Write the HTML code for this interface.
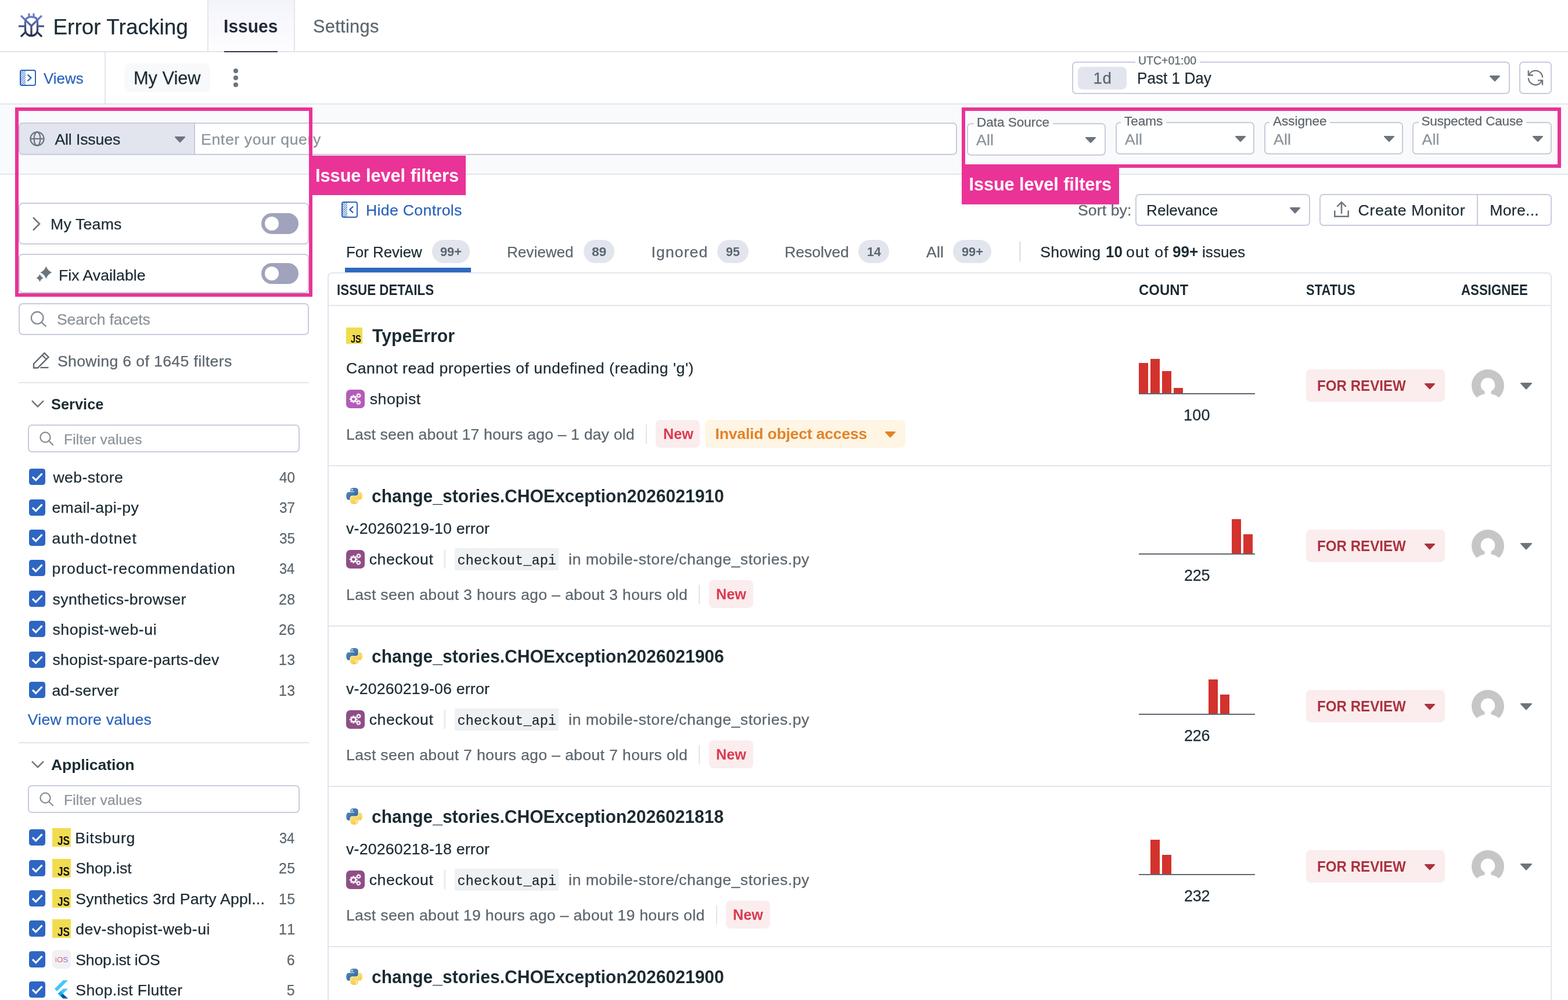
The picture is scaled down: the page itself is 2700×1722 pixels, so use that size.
<!DOCTYPE html>
<html lang="en">
<head>
<meta charset="utf-8">
<title>Error Tracking - Issues</title>
<style>
html,body{margin:0;padding:0;background:#fff;}
body{width:2700px;height:1722px;overflow:hidden;position:relative;font-family:'Liberation Sans', sans-serif;color:#1c2b34;}
#app{position:absolute;left:0;top:0;width:2700px;height:1722px;overflow:hidden;background:#fff;}
#app div,#app svg,#app .t{position:absolute;box-sizing:border-box;}
#app .t{white-space:pre;margin:0;padding:0;font-weight:400;-webkit-text-stroke:0.25px;}
#app .b{font-weight:700;-webkit-text-stroke:0;}
#app svg{overflow:visible;}

.bd{border:2px solid #c8cbdd;border-radius:7px;background:#fff;}
.pill{border-radius:8px;}
.badge{background:#e2e5ed;border-radius:20px;}
.ck{background:#2e66c3;border-radius:4.5px;}

</style>
</head>
<body>
<div id="app">
<header>
<div style="left:356.5px;top:0px;width:151.5px;height:89px;background:linear-gradient(#f3f3fc,#fefeff);border-left:2px solid #e4e6ee;border-right:2px solid #e4e6ee;"></div>
<div style="left:0px;top:88px;width:2700px;height:2px;background:#e2e5ed;"></div>
<div style="left:386px;top:88px;width:92px;height:2px;background:#2c3354;"></div>
<svg style="left:30px;top:20px" width="50" height="48" viewBox="0 0 50 48" ><defs><linearGradient id="bg" gradientUnits="userSpaceOnUse" x1="0" y1="3" x2="0" y2="44"><stop offset="0" stop-color="#6f89e0"/><stop offset="0.55" stop-color="#485489"/><stop offset="1" stop-color="#25293a"/></linearGradient></defs>
<g fill="none" stroke="url(#bg)" stroke-width="3.3">
<path d="M13.500 17.500C13.500 11.500 17.800 9 24 9S34.500 11.500 34.500 17.500V31.200C34.500 37.400 30 41.700 24 41.700S13.500 37.400 13.500 31.200Z"/>
<path d="M6 6.800L24 24.600L42 6.800M24 24V41.500"/>
<path d="M2 25.100H13M35 25.100H46"/>
<path d="M14.800 34.300L6 43.100M33.200 34.300L42 43.100"/>
<path d="M19.900 3.100V9.500M28 3.100V9.500"/>
</g></svg>
<h1 class="t" style="left:91.40px;top:23px;font-size:36.9px;line-height:48px;color:#1c2b34;letter-spacing:0.06px;">Error Tracking</h1>
<span class="t b" style="left:384.80px;top:26px;font-size:30.75px;line-height:40px;color:#232a39;transform:scaleX(0.975);transform-origin:2.00px 50%;">Issues</span>
<span class="t" style="left:538.90px;top:26px;font-size:30.75px;line-height:40px;color:#5c666e;letter-spacing:0.34px;">Settings</span>
</header>
<nav>
<div style="left:180px;top:90px;width:2px;height:89px;background:#e2e5ed;"></div>
<div style="left:0px;top:178px;width:2700px;height:2px;background:#e2e5ed;"></div>
<svg style="left:34px;top:120px" width="28" height="28" viewBox="0 0 28 28" ><defs><pattern id="hx" width="2.6" height="2.6" patternUnits="userSpaceOnUse" patternTransform="rotate(-45)"><rect width="2.6" height="1" fill="#2b63bd"/></pattern></defs>
<rect x="1" y="1" width="26" height="26" rx="3" fill="none" stroke="#2b63bd" stroke-width="2"/>
<rect x="2" y="2" width="8" height="24" fill="url(#hx)"/>
<path d="M13.500 8.500L19.300 14L13.500 19.500" fill="none" stroke="#2b63bd" stroke-width="2.3"/></svg>
<span class="t" style="left:75.10px;top:118px;font-size:26.65px;line-height:35px;color:#2b63bd;transform:scaleX(0.973);transform-origin:0.00px 50%;">Views</span>
<div style="left:214px;top:109px;width:148px;height:50px;background:#f8f9fb;border-radius:10px;"></div>
<span class="t" style="left:230.00px;top:115px;font-size:30.75px;line-height:40px;color:#1c2b34;letter-spacing:-0.02px;">My View</span>
<svg style="left:400px;top:118px" width="12" height="34" viewBox="0 0 12 34" ><circle cx="6" cy="4.100" r="4.100" fill="#6c757d"/><circle cx="6" cy="16.050" r="4.100" fill="#6c757d"/><circle cx="6" cy="28" r="4.100" fill="#6c757d"/></svg>
<div class="bd" style="left:1846px;top:106px;width:754px;height:56px;"></div>
<div style="left:1955px;top:105px;width:111px;height:7px;background:#fff;"></div>
<span class="t" style="left:1960.00px;top:90px;font-size:20.76px;line-height:27px;color:#5c666e;transform:scaleX(0.938);transform-origin:1.00px 50%;">UTC+01:00</span>
<div style="left:1856px;top:114.5px;width:84px;height:39.0px;background:#e2e5ed;border-radius:8px;"></div>
<span class="t" style="left:1882.50px;top:117px;font-size:27.67px;line-height:36px;color:#5c666e;letter-spacing:0.62px;">1d</span>
<span class="t" style="left:1958.00px;top:117px;font-size:27.67px;line-height:36px;color:#1c2b34;transform:scaleX(0.944);transform-origin:2.00px 50%;">Past 1 Day</span>
<svg style="left:2565px;top:130px" width="18" height="10.3" viewBox="0 0 18 10.3" ><path d="M1.1 1.1H16.9L9.0 9.200Z" fill="#6c757d" stroke="#6c757d" stroke-width="2.2" stroke-linejoin="round"/></svg>
<div class="bd" style="left:2616px;top:106px;width:56px;height:56px;"></div>
<svg style="left:2630px;top:120px" width="28" height="28" viewBox="0 0 28 28" ><g fill="none" stroke="#6c757d" stroke-width="2.3">
<path d="M3 8.500A12.200 12.200 0 0 1 26.200 13.600"/><path d="M1.800 1.200V9.500H10"/>
<path d="M1.800 14.200A12.200 12.200 0 0 0 25 19.300"/><path d="M18 18.300H26V26.800"/></g></svg>
</nav>
<section>
<div style="left:0px;top:180px;width:2700px;height:119px;background:#f9fafb;"></div>
<div style="left:0px;top:299px;width:2700px;height:2px;background:#e2e5ed;"></div>
<div class="bd" style="left:334px;top:211px;width:1314px;height:56px;border-radius:0 7px 7px 0;"></div>
<div class="bd" style="left:32px;top:211px;width:304px;height:56px;background:#e2e5ed;border-radius:7px 0 0 7px;"></div>
<svg style="left:51px;top:226px" width="26" height="26" viewBox="0 0 26 26" ><g fill="none" stroke="#6c757d" stroke-width="2.2"><circle cx="13" cy="13" r="11.600"/><ellipse cx="13" cy="13" rx="5.400" ry="11.600"/><path d="M1.400 13H24.600"/></g></svg>
<span class="t" style="left:94.40px;top:223px;font-size:26.65px;line-height:35px;color:#1c2b34;letter-spacing:-0.13px;">All Issues</span>
<svg style="left:301px;top:234.8px" width="18" height="10.5" viewBox="0 0 18 10.5" ><path d="M1.1 1.1H16.9L9.0 9.4Z" fill="#6c757d" stroke="#6c757d" stroke-width="2.2" stroke-linejoin="round"/></svg>
<span class="t" style="left:346.00px;top:223px;font-size:26.65px;line-height:35px;color:#8b9399;letter-spacing:0.63px;">Enter your query</span>
<div class="bd" style="left:1664.5px;top:212px;width:239.5px;height:56px;"></div>
<div style="left:1677px;top:210px;width:135.5px;height:3px;background:#f9fafb;"></div>
<div style="left:1677px;top:213px;width:135.5px;height:3px;background:#fff;"></div>
<span class="t" style="left:1682.00px;top:196px;font-size:22.55px;line-height:29px;color:#5c666e;letter-spacing:-0.03px;">Data Source</span>
<span class="t" style="left:1681.00px;top:224px;font-size:26.65px;line-height:35px;color:#8b9399;letter-spacing:0.16px;">All</span>
<svg style="left:1869.2px;top:235.8px" width="18" height="10.3" viewBox="0 0 18 10.3" ><path d="M1.1 1.1H16.9L9.0 9.200Z" fill="#6c757d" stroke="#6c757d" stroke-width="2.2" stroke-linejoin="round"/></svg>
<div class="bd" style="left:1920.5px;top:210px;width:239.0px;height:56px;"></div>
<div style="left:1930px;top:208px;width:78px;height:3px;background:#f9fafb;"></div>
<div style="left:1930px;top:211px;width:78px;height:3px;background:#fff;"></div>
<span class="t" style="left:1936.00px;top:194px;font-size:22.55px;line-height:29px;color:#5c666e;letter-spacing:-0.03px;">Teams</span>
<span class="t" style="left:1937.00px;top:223px;font-size:26.65px;line-height:35px;color:#8b9399;letter-spacing:0.16px;">All</span>
<svg style="left:2127.3px;top:233.8px" width="18" height="10.3" viewBox="0 0 18 10.3" ><path d="M1.1 1.1H16.9L9.0 9.200Z" fill="#6c757d" stroke="#6c757d" stroke-width="2.2" stroke-linejoin="round"/></svg>
<div class="bd" style="left:2176.5px;top:210px;width:239.0px;height:56px;"></div>
<div style="left:2186px;top:208px;width:104px;height:3px;background:#f9fafb;"></div>
<div style="left:2186px;top:211px;width:104px;height:3px;background:#fff;"></div>
<span class="t" style="left:2192.00px;top:194px;font-size:22.55px;line-height:29px;color:#5c666e;letter-spacing:-0.03px;">Assignee</span>
<span class="t" style="left:2193.00px;top:223px;font-size:26.65px;line-height:35px;color:#8b9399;letter-spacing:0.16px;">All</span>
<svg style="left:2383.3px;top:233.8px" width="18" height="10.3" viewBox="0 0 18 10.3" ><path d="M1.1 1.1H16.9L9.0 9.200Z" fill="#6c757d" stroke="#6c757d" stroke-width="2.2" stroke-linejoin="round"/></svg>
<div class="bd" style="left:2432px;top:210px;width:239.5px;height:56px;"></div>
<div style="left:2442.5px;top:208px;width:185.5px;height:3px;background:#f9fafb;"></div>
<div style="left:2442.5px;top:211px;width:185.5px;height:3px;background:#fff;"></div>
<span class="t" style="left:2447.50px;top:194px;font-size:22.55px;line-height:29px;color:#5c666e;letter-spacing:-0.21px;">Suspected Cause</span>
<span class="t" style="left:2448.50px;top:223px;font-size:26.65px;line-height:35px;color:#8b9399;letter-spacing:0.16px;">All</span>
<svg style="left:2639.3px;top:233.8px" width="18" height="10.3" viewBox="0 0 18 10.3" ><path d="M1.1 1.1H16.9L9.0 9.200Z" fill="#6c757d" stroke="#6c757d" stroke-width="2.2" stroke-linejoin="round"/></svg>
</section>
<aside>
<div class="bd" style="left:32px;top:349px;width:499.5px;height:71.5px;"></div>
<svg style="left:54px;top:373px" width="18" height="25" viewBox="0 0 18 25" ><path d="M3 1.5L14 12.5L3 23.5" fill="none" stroke="#6c757d" stroke-width="2.6"/></svg>
<span class="t" style="left:87.00px;top:369px;font-size:26.65px;line-height:35px;color:#1c2b34;letter-spacing:0.21px;">My Teams</span>
<div style="left:450px;top:367px;width:64px;height:36px;background:#a0a3bb;border-radius:18px;"></div>
<div style="left:456px;top:373px;width:24px;height:24px;background:#fff;border-radius:50%;"></div>
<div class="bd" style="left:32px;top:437px;width:499.5px;height:67.5px;"></div>
<svg style="left:61px;top:456px" width="30" height="30" viewBox="0 0 30 30" ><path d="M18.4 2.5Q21.171 10.203 28.299 13.2Q21.171 16.195 18.4 23.9Q15.627 16.195 8.499 13.2Q15.627 10.203 18.4 2.5ZM7.6 16.0Q9.308 20.823 13.7 22.7Q9.308 24.576 7.6 29.4Q5.891 24.576 1.5 22.7Q5.891 20.823 7.6 16.0Z" fill="#6c757d"/></svg>
<span class="t" style="left:100.90px;top:457px;font-size:26.65px;line-height:35px;color:#1c2b34;letter-spacing:0.05px;">Fix Available</span>
<div style="left:450px;top:453px;width:64px;height:36px;background:#a0a3bb;border-radius:18px;"></div>
<div style="left:456px;top:459px;width:24px;height:24px;background:#fff;border-radius:50%;"></div>
<div class="bd" style="left:32px;top:521.5px;width:499.5px;height:55.0px;"></div>
<svg style="left:52px;top:534px" width="30" height="30" viewBox="0 0 30 30" ><g fill="none" stroke="#848c94" stroke-width="2.3"><circle cx="12.2" cy="13.3" r="10.3"/><path d="M19.500 20.600L27.300 28.400"/></g></svg>
<span class="t" style="left:97.90px;top:533px;font-size:26.65px;line-height:35px;color:#8b9399;letter-spacing:-0.17px;">Search facets</span>
<svg style="left:55px;top:606px" width="32" height="32" viewBox="0 0 32 32" ><g fill="none" stroke="#5c666e" stroke-width="2.3"><path d="M3 20.500L21.500 2L28.500 9L10 27.500H3Z"/><path d="M17.800 5.700L24.800 12.700"/><path d="M14.500 27H28.500"/></g></svg>
<span class="t" style="left:98.90px;top:605px;font-size:26.65px;line-height:35px;color:#5c666e;letter-spacing:0.36px;">Showing 6 of 1645 filters</span>
<div style="left:32px;top:657.5px;width:499.5px;height:2.0px;background:#e2e5ed;"></div>
<svg style="left:53.5px;top:688.7px" width="22" height="14" viewBox="0 0 22 14" ><path d="M1 1.200L11 11.200L21 1.200" fill="none" stroke="#6c757d" stroke-width="2.4"/></svg>
<h2 class="t b" style="left:88.00px;top:679px;font-size:26.65px;line-height:35px;color:#1c2b34;transform:scaleX(0.954);transform-origin:0.00px 50%;">Service</h2>
<div class="bd" style="left:48px;top:731px;width:468px;height:48px;"></div>
<svg style="left:68px;top:743px" width="25" height="25" viewBox="0 0 25 25" ><g fill="none" stroke="#848c94" stroke-width="2.2"><circle cx="10" cy="10" r="8.600"/><path d="M16.200 16.200L23.700 23.700"/></g></svg>
<span class="t" style="left:110.00px;top:741px;font-size:24.6px;line-height:32px;color:#8b9399;letter-spacing:0.16px;">Filter values</span>
<div class="ck" style="left:50px;top:807px;width:28px;height:28px;"></div>
<svg style="left:50px;top:807px" width="28" height="28" viewBox="0 0 28 28" ><path d="M6 14.2L11.700 19.800L22.500 8.5" fill="none" stroke="#fff" stroke-width="3.2"/></svg>
<span class="t" style="left:91.40px;top:805px;font-size:26.65px;line-height:35px;color:#1c2b34;letter-spacing:0.43px;">web-store</span>
<span class="t" style="left:481.00px;top:806px;font-size:24.91px;line-height:32px;color:#5c666e;transform:scaleX(0.979);transform-origin:0.00px 50%;">40</span>
<div class="ck" style="left:50px;top:860px;width:28px;height:28px;"></div>
<svg style="left:50px;top:860px" width="28" height="28" viewBox="0 0 28 28" ><path d="M6 14.2L11.700 19.800L22.500 8.5" fill="none" stroke="#fff" stroke-width="3.2"/></svg>
<span class="t" style="left:89.40px;top:857px;font-size:26.65px;line-height:35px;color:#1c2b34;letter-spacing:0.39px;">email-api-py</span>
<span class="t" style="left:481.00px;top:858px;font-size:24.91px;line-height:32px;color:#5c666e;transform:scaleX(0.979);transform-origin:0.00px 50%;">37</span>
<div class="ck" style="left:50px;top:912px;width:28px;height:28px;"></div>
<svg style="left:50px;top:912px" width="28" height="28" viewBox="0 0 28 28" ><path d="M6 14.2L11.700 19.800L22.500 8.5" fill="none" stroke="#fff" stroke-width="3.2"/></svg>
<span class="t" style="left:89.40px;top:910px;font-size:26.65px;line-height:35px;color:#1c2b34;letter-spacing:1.06px;">auth-dotnet</span>
<span class="t" style="left:481.00px;top:911px;font-size:24.91px;line-height:32px;color:#5c666e;transform:scaleX(0.979);transform-origin:0.00px 50%;">35</span>
<div class="ck" style="left:50px;top:964px;width:28px;height:28px;"></div>
<svg style="left:50px;top:964px" width="28" height="28" viewBox="0 0 28 28" ><path d="M6 14.2L11.700 19.800L22.500 8.5" fill="none" stroke="#fff" stroke-width="3.2"/></svg>
<span class="t" style="left:89.40px;top:962px;font-size:26.65px;line-height:35px;color:#1c2b34;letter-spacing:0.92px;">product-recommendation</span>
<span class="t" style="left:481.00px;top:963px;font-size:24.91px;line-height:32px;color:#5c666e;transform:scaleX(0.944);transform-origin:0.00px 50%;">34</span>
<div class="ck" style="left:50px;top:1017px;width:28px;height:28px;"></div>
<svg style="left:50px;top:1017px" width="28" height="28" viewBox="0 0 28 28" ><path d="M6 14.2L11.700 19.800L22.500 8.5" fill="none" stroke="#fff" stroke-width="3.2"/></svg>
<span class="t" style="left:90.40px;top:1015px;font-size:26.65px;line-height:35px;color:#1c2b34;letter-spacing:0.46px;">synthetics-browser</span>
<span class="t" style="left:480.00px;top:1016px;font-size:24.91px;line-height:32px;color:#5c666e;letter-spacing:0.45px;">28</span>
<div class="ck" style="left:50px;top:1069px;width:28px;height:28px;"></div>
<svg style="left:50px;top:1069px" width="28" height="28" viewBox="0 0 28 28" ><path d="M6 14.2L11.700 19.800L22.500 8.5" fill="none" stroke="#fff" stroke-width="3.2"/></svg>
<span class="t" style="left:90.40px;top:1067px;font-size:26.65px;line-height:35px;color:#1c2b34;letter-spacing:0.57px;">shopist-web-ui</span>
<span class="t" style="left:480.00px;top:1068px;font-size:24.91px;line-height:32px;color:#5c666e;letter-spacing:0.45px;">26</span>
<div class="ck" style="left:50px;top:1122px;width:28px;height:28px;"></div>
<svg style="left:50px;top:1122px" width="28" height="28" viewBox="0 0 28 28" ><path d="M6 14.2L11.700 19.800L22.500 8.5" fill="none" stroke="#fff" stroke-width="3.2"/></svg>
<span class="t" style="left:90.40px;top:1119px;font-size:26.65px;line-height:35px;color:#1c2b34;letter-spacing:0.32px;">shopist-spare-parts-dev</span>
<span class="t" style="left:480.00px;top:1120px;font-size:24.91px;line-height:32px;color:#5c666e;letter-spacing:0.45px;">13</span>
<div class="ck" style="left:50px;top:1174px;width:28px;height:28px;"></div>
<svg style="left:50px;top:1174px" width="28" height="28" viewBox="0 0 28 28" ><path d="M6 14.2L11.700 19.800L22.500 8.5" fill="none" stroke="#fff" stroke-width="3.2"/></svg>
<span class="t" style="left:89.40px;top:1172px;font-size:26.65px;line-height:35px;color:#1c2b34;letter-spacing:0.34px;">ad-server</span>
<span class="t" style="left:480.00px;top:1173px;font-size:24.91px;line-height:32px;color:#5c666e;letter-spacing:0.45px;">13</span>
<span class="t" style="left:47.80px;top:1222px;font-size:26.65px;line-height:35px;color:#2b63bd;letter-spacing:0.22px;">View more values</span>
<div style="left:32px;top:1278px;width:499.5px;height:2px;background:#e2e5ed;"></div>
<svg style="left:53.5px;top:1310.2px" width="22" height="14" viewBox="0 0 22 14" ><path d="M1 1.200L11 11.200L21 1.200" fill="none" stroke="#6c757d" stroke-width="2.4"/></svg>
<h2 class="t b" style="left:88.00px;top:1300px;font-size:26.65px;line-height:35px;color:#1c2b34;letter-spacing:-0.15px;">Application</h2>
<div class="bd" style="left:48px;top:1352px;width:468px;height:48px;"></div>
<svg style="left:68px;top:1364px" width="25" height="25" viewBox="0 0 25 25" ><g fill="none" stroke="#848c94" stroke-width="2.2"><circle cx="10" cy="10" r="8.600"/><path d="M16.200 16.200L23.700 23.700"/></g></svg>
<span class="t" style="left:110.00px;top:1362px;font-size:24.6px;line-height:32px;color:#8b9399;letter-spacing:0.16px;">Filter values</span>
<div class="ck" style="left:50px;top:1428px;width:28px;height:28px;"></div>
<svg style="left:50px;top:1428px" width="28" height="28" viewBox="0 0 28 28" ><path d="M6 14.2L11.700 19.800L22.500 8.5" fill="none" stroke="#fff" stroke-width="3.2"/></svg>
<div style="left:90px;top:1426px;width:32px;height:32px;background:#f1dc50;"></div>
<span class="t b" style="left:99.14px;top:1434px;font-size:21.9px;line-height:28px;color:#111;transform:scaleX(0.785);transform-origin:0.00px 50%;">JS</span>
<span class="t" style="left:129.30px;top:1426px;font-size:26.65px;line-height:35px;color:#1c2b34;letter-spacing:0.76px;">Bitsburg</span>
<span class="t" style="left:481.00px;top:1427px;font-size:24.91px;line-height:32px;color:#5c666e;transform:scaleX(0.944);transform-origin:0.00px 50%;">34</span>
<div class="ck" style="left:50px;top:1481px;width:28px;height:28px;"></div>
<svg style="left:50px;top:1481px" width="28" height="28" viewBox="0 0 28 28" ><path d="M6 14.2L11.700 19.800L22.500 8.5" fill="none" stroke="#fff" stroke-width="3.2"/></svg>
<div style="left:90px;top:1479px;width:32px;height:32px;background:#f1dc50;"></div>
<span class="t b" style="left:99.14px;top:1487px;font-size:21.9px;line-height:28px;color:#111;transform:scaleX(0.785);transform-origin:0.00px 50%;">JS</span>
<span class="t" style="left:130.30px;top:1478px;font-size:26.65px;line-height:35px;color:#1c2b34;letter-spacing:0.01px;">Shop.ist</span>
<span class="t" style="left:480.00px;top:1479px;font-size:24.91px;line-height:32px;color:#5c666e;letter-spacing:0.45px;">25</span>
<div class="ck" style="left:50px;top:1533px;width:28px;height:28px;"></div>
<svg style="left:50px;top:1533px" width="28" height="28" viewBox="0 0 28 28" ><path d="M6 14.2L11.700 19.800L22.500 8.5" fill="none" stroke="#fff" stroke-width="3.2"/></svg>
<div style="left:90px;top:1531px;width:32px;height:32px;background:#f1dc50;"></div>
<span class="t b" style="left:99.14px;top:1539px;font-size:21.9px;line-height:28px;color:#111;transform:scaleX(0.785);transform-origin:0.00px 50%;">JS</span>
<span class="t" style="left:130.30px;top:1531px;font-size:26.65px;line-height:35px;color:#1c2b34;letter-spacing:0.21px;">Synthetics 3rd Party Appl...</span>
<span class="t" style="left:480.00px;top:1532px;font-size:24.91px;line-height:32px;color:#5c666e;letter-spacing:0.45px;">15</span>
<div class="ck" style="left:50px;top:1585px;width:28px;height:28px;"></div>
<svg style="left:50px;top:1585px" width="28" height="28" viewBox="0 0 28 28" ><path d="M6 14.2L11.700 19.800L22.500 8.5" fill="none" stroke="#fff" stroke-width="3.2"/></svg>
<div style="left:90px;top:1583px;width:32px;height:32px;background:#f1dc50;"></div>
<span class="t b" style="left:99.14px;top:1591px;font-size:21.9px;line-height:28px;color:#111;transform:scaleX(0.785);transform-origin:0.00px 50%;">JS</span>
<span class="t" style="left:130.30px;top:1583px;font-size:26.65px;line-height:35px;color:#1c2b34;letter-spacing:0.44px;">dev-shopist-web-ui</span>
<span class="t" style="left:480.00px;top:1584px;font-size:24.91px;line-height:32px;color:#5c666e;letter-spacing:2.30px;">11</span>
<div class="ck" style="left:50px;top:1638px;width:28px;height:28px;"></div>
<svg style="left:50px;top:1638px" width="28" height="28" viewBox="0 0 28 28" ><path d="M6 14.2L11.700 19.800L22.500 8.5" fill="none" stroke="#fff" stroke-width="3.2"/></svg>
<div style="left:90px;top:1636px;width:32px;height:32px;background:#f1f1f4;border-radius:7px;"></div>
<svg style="left:90px;top:1636px" width="32" height="32" viewBox="0 0 32 32" ><defs><linearGradient id="ig" x1="0" y1="0" x2="1" y2="0"><stop offset="0" stop-color="#f08a5d"/><stop offset="0.45" stop-color="#e0508f"/><stop offset="1" stop-color="#5a7fe0"/></linearGradient></defs><text x="16" y="20.700" text-anchor="middle" font-family="Liberation Sans, sans-serif" font-size="13.5" fill="url(#ig)">iOS</text></svg>
<span class="t" style="left:130.30px;top:1636px;font-size:26.65px;line-height:35px;color:#1c2b34;letter-spacing:-0.24px;">Shop.ist iOS</span>
<span class="t" style="left:493.70px;top:1637px;font-size:24.91px;line-height:32px;color:#5c666e;">6</span>
<div class="ck" style="left:50px;top:1690px;width:28px;height:28px;"></div>
<svg style="left:50px;top:1690px" width="28" height="28" viewBox="0 0 28 28" ><path d="M6 14.2L11.700 19.800L22.500 8.5" fill="none" stroke="#fff" stroke-width="3.2"/></svg>
<svg style="left:93.4px;top:1687.8px" width="25" height="32" viewBox="0 0 27 34.5" ><path d="M17 0H26L5.500 20.500L1 16Z" fill="#47c5fb"/><path d="M17 15.5H26L16.500 25L12 20.500Z" fill="#47c5fb"/><path d="M12 20.500L16.500 25L26 34H17L7.500 25Z" fill="#00569e"/><path d="M7.500 25L12 20.500L16.500 25L12 29.500Z" fill="#00b5f8"/></svg>
<span class="t" style="left:130.30px;top:1688px;font-size:26.65px;line-height:35px;color:#1c2b34;letter-spacing:0.31px;">Shop.ist Flutter</span>
<span class="t" style="left:493.70px;top:1689px;font-size:24.91px;line-height:32px;color:#5c666e;">5</span>
</aside>
<main>
<svg style="left:587.8px;top:347px" width="28" height="28" viewBox="0 0 28 28" ><defs><pattern id="hy" width="2.6" height="2.6" patternUnits="userSpaceOnUse" patternTransform="rotate(-45)"><rect width="2.6" height="1" fill="#2b63bd"/></pattern></defs>
<rect x="1" y="1" width="26" height="26" rx="3" fill="none" stroke="#2b63bd" stroke-width="2"/>
<rect x="2" y="2" width="8" height="24" fill="url(#hy)"/>
<path d="M20 8.600L14.300 14L20 19.400" fill="none" stroke="#2b63bd" stroke-width="2.3"/></svg>
<span class="t" style="left:629.90px;top:345px;font-size:26.65px;line-height:35px;color:#2b63bd;letter-spacing:0.34px;">Hide Controls</span>
<span class="t" style="left:596.00px;top:417px;font-size:26.65px;line-height:35px;color:#1c2b34;transform:scaleX(0.970);transform-origin:2.00px 50%;">For Review</span>
<div class="badge" style="left:744px;top:413px;width:65px;height:40px;"></div>
<span class="t b" style="left:758.00px;top:418px;font-size:22.84px;line-height:30px;color:#5c666e;transform:scaleX(0.953);transform-origin:0.00px 50%;">99+</span>
<div style="left:594px;top:460.8px;width:217px;height:8.199px;background:#2e68be;"></div>
<span class="t" style="left:873.00px;top:417px;font-size:26.65px;line-height:35px;color:#5c666e;transform:scaleX(0.978);transform-origin:2.00px 50%;">Reviewed</span>
<div class="badge" style="left:1005px;top:413px;width:53px;height:40px;"></div>
<span class="t b" style="left:1018.90px;top:418px;font-size:22.84px;line-height:30px;color:#5c666e;letter-spacing:-0.10px;">89</span>
<span class="t" style="left:1121.50px;top:417px;font-size:26.65px;line-height:35px;color:#5c666e;letter-spacing:1.08px;">Ignored</span>
<div class="badge" style="left:1235px;top:413px;width:53.700px;height:40px;"></div>
<span class="t b" style="left:1249.50px;top:418px;font-size:22.84px;line-height:30px;color:#5c666e;transform:scaleX(0.941);transform-origin:0.00px 50%;">95</span>
<span class="t" style="left:1351.00px;top:417px;font-size:26.65px;line-height:35px;color:#5c666e;letter-spacing:-0.04px;">Resolved</span>
<div class="badge" style="left:1478px;top:413px;width:53px;height:40px;"></div>
<span class="t b" style="left:1492.50px;top:418px;font-size:22.84px;line-height:30px;color:#5c666e;transform:scaleX(0.939);transform-origin:1.00px 50%;">14</span>
<span class="t" style="left:1595.00px;top:417px;font-size:26.65px;line-height:35px;color:#5c666e;letter-spacing:0.16px;">All</span>
<div class="badge" style="left:1641px;top:413px;width:65.5px;height:40px;"></div>
<span class="t b" style="left:1655.70px;top:418px;font-size:22.84px;line-height:30px;color:#5c666e;transform:scaleX(0.955);transform-origin:0.00px 50%;">99+</span>
<div style="left:1755px;top:416px;width:3px;height:34px;background:#e2e5ed;"></div>
<span class="t" style="left:1791.20px;top:417px;font-size:26.65px;line-height:35px;color:#1c2b34;letter-spacing:0.27px;">Showing</span>
<span class="t b" style="left:1903.60px;top:417px;font-size:26.99px;line-height:35px;color:#1c2b34;transform:scaleX(0.964);transform-origin:1.00px 50%;">10</span>
<span class="t" style="left:1939.00px;top:417px;font-size:26.65px;line-height:35px;color:#1c2b34;letter-spacing:1.21px;">out of</span>
<span class="t b" style="left:2019.00px;top:417px;font-size:26.99px;line-height:35px;color:#1c2b34;transform:scaleX(0.970);transform-origin:0.00px 50%;">99+</span>
<span class="t" style="left:2070.00px;top:417px;font-size:26.65px;line-height:35px;color:#1c2b34;transform:scaleX(0.982);transform-origin:1.00px 50%;">issues</span>
<span class="t" style="left:1856.00px;top:345px;font-size:26.65px;line-height:35px;color:#5c666e;letter-spacing:0.09px;">Sort by:</span>
<div class="bd" style="left:1955px;top:334px;width:301px;height:55px;"></div>
<span class="t" style="left:1973.50px;top:345px;font-size:26.65px;line-height:35px;color:#1c2b34;transform:scaleX(0.979);transform-origin:2.00px 50%;">Relevance</span>
<svg style="left:2220.5px;top:356.5px" width="18" height="10.5" viewBox="0 0 18 10.5" ><path d="M1.1 1.1H16.9L9.0 9.4Z" fill="#6c757d" stroke="#6c757d" stroke-width="2.2" stroke-linejoin="round"/></svg>
<div class="bd" style="left:2272px;top:334px;width:400px;height:55px;"></div>
<div style="left:2543px;top:335px;width:2px;height:53px;background:#c8cbdd;"></div>
<svg style="left:2296px;top:346px" width="28" height="29" viewBox="0 0 28 29" ><g fill="none" stroke="#6c757d" stroke-width="2.5"><path d="M2.300 16.500V26.700H25.700V16.500"/><path d="M14 22V3M6.300 9.800L14 2.200L21.700 9.800"/></g></svg>
<span class="t" style="left:2338.60px;top:345px;font-size:26.65px;line-height:35px;color:#1c2b34;letter-spacing:0.60px;">Create Monitor</span>
<span class="t" style="left:2565.20px;top:345px;font-size:26.65px;line-height:35px;color:#1c2b34;letter-spacing:0.27px;">More...</span>
<div style="left:564px;top:469px;width:2108px;height:1271px;border:2px solid #e2e5ed;border-radius:8px;"></div>
<div style="left:566px;top:525px;width:2104px;height:2px;background:#e2e5ed;"></div>
<span class="t b" style="left:579.80px;top:483px;font-size:24.91px;line-height:32px;color:#1c2b34;transform:scaleX(0.896);transform-origin:1.00px 50%;">ISSUE DETAILS</span>
<span class="t b" style="left:1960.50px;top:483px;font-size:24.91px;line-height:32px;color:#1c2b34;transform:scaleX(0.961);transform-origin:1.00px 50%;">COUNT</span>
<span class="t b" style="left:2249.20px;top:483px;font-size:24.91px;line-height:32px;color:#1c2b34;transform:scaleX(0.882);transform-origin:0.00px 50%;">STATUS</span>
<span class="t b" style="left:2516.00px;top:483px;font-size:24.91px;line-height:32px;color:#1c2b34;transform:scaleX(0.893);transform-origin:0.00px 50%;">ASSIGNEE</span>
<svg width="0" height="0" style="left:0;top:0"><defs>
<linearGradient id="pyb" x1="0" y1="0" x2="0.75" y2="0.9"><stop offset="0" stop-color="#5b90c2"/><stop offset="1" stop-color="#35689a"/></linearGradient>
<linearGradient id="pyy" x1="0.3" y1="0.1" x2="0.8" y2="1"><stop offset="0" stop-color="#fce27a"/><stop offset="1" stop-color="#f6c63c"/></linearGradient>
<g id="pylogo">
<path fill="url(#pyb)" d="M54.920 0C50.340 0.020 45.960 0.410 42.110 1.090C30.760 3.100 28.700 7.290 28.700 15.030V25.250H55.510V28.660H28.700H18.640C10.850 28.660 4.020 33.340 1.890 42.250C-0.570 52.460 -0.680 58.840 1.890 69.500C3.790 77.440 8.350 83.090 16.140 83.090H25.360V70.840C25.360 61.990 33.010 54.190 42.110 54.190H68.890C76.340 54.190 82.290 48.050 82.290 40.560V15.030C82.290 7.770 76.160 2.310 68.890 1.090C64.280 0.330 59.500 -0.020 54.920 0ZM40.420 8.220C43.190 8.220 45.450 10.520 45.450 13.340C45.450 16.160 43.190 18.440 40.420 18.440C37.640 18.440 35.390 16.160 35.390 13.340C35.390 10.520 37.640 8.220 40.420 8.220Z"/>
<path fill="url(#pyy)" d="M85.640 28.660V40.560C85.640 49.790 77.810 57.560 68.890 57.560H42.110C34.770 57.560 28.700 63.840 28.700 71.190V96.720C28.700 103.990 35.020 108.260 42.110 110.340C50.590 112.840 58.730 113.290 68.890 110.340C75.640 108.390 82.290 104.460 82.290 96.720V86.500H55.510V83.090H82.290H95.700C103.490 83.090 106.400 77.660 109.110 69.500C111.910 61.100 111.790 53.030 109.110 42.250C107.180 34.490 103.500 28.660 95.700 28.660ZM70.580 93.310C73.350 93.310 75.610 95.590 75.610 98.410C75.610 101.230 73.350 103.530 70.580 103.530C67.810 103.530 65.540 101.230 65.540 98.410C65.540 95.590 67.810 93.310 70.580 93.310Z"/>
</g></defs></svg>
<article>
<div style="left:596px;top:564px;width:28px;height:28px;background:#f1dc50;"></div>
<span class="t b" style="left:604.00px;top:571px;font-size:19.2px;line-height:25px;color:#111;transform:scaleX(0.760);transform-origin:0.00px 50%;">JS</span>
<h3 class="t b" style="left:640.50px;top:559px;font-size:30.75px;line-height:40px;color:#1c2b34;transform:scaleX(0.981);transform-origin:0.00px 50%;">TypeError</h3>
<span class="t" style="left:596.00px;top:617px;font-size:26.65px;line-height:35px;color:#1c2b34;letter-spacing:0.53px;">Cannot read properties of undefined (reading 'g')</span>
<div style="left:596px;top:671px;width:32px;height:32px;background:#b35cb8;border-radius:7px;"></div>
<svg style="left:596px;top:671px" width="32" height="32" viewBox="0 0 32 32" ><path d="M19.20 14.97L19.20 17.23L17.45 17.24L16.86 18.65L18.10 19.90L16.50 21.50L15.25 20.26L13.84 20.85L13.83 22.60L11.57 22.60L11.56 20.85L10.15 20.26L8.90 21.50L7.30 19.90L8.54 18.65L7.95 17.24L6.20 17.23L6.20 14.97L7.95 14.96L8.54 13.55L7.30 12.30L8.90 10.70L10.15 11.94L11.56 11.35L11.57 9.60L13.83 9.60L13.84 11.35L15.25 11.94L16.50 10.70L18.10 12.30L16.86 13.55L17.45 14.96Z" fill="#fff" stroke="#fff" stroke-width="0.6" stroke-linejoin="round"/><circle cx="12.7" cy="16.1" r="2.700" fill="#b35cb8"/><path d="M25.32 9.43L25.32 10.97L24.28 10.97L23.83 11.90L24.48 12.71L23.29 13.67L22.63 12.85L21.63 13.08L21.39 14.10L19.90 13.76L20.13 12.74L19.33 12.10L18.39 12.55L17.72 11.17L18.66 10.72L18.66 9.68L17.72 9.23L18.39 7.85L19.33 8.30L20.13 7.66L19.90 6.64L21.39 6.30L21.63 7.32L22.63 7.55L23.29 6.73L24.48 7.69L23.83 8.50L24.28 9.43Z" fill="#fff" stroke="#fff" stroke-width="0.6" stroke-linejoin="round"/><circle cx="21.5" cy="10.2" r="1.500" fill="#b35cb8"/><path d="M25.12 21.13L25.12 22.67L24.08 22.67L23.63 23.60L24.28 24.41L23.09 25.37L22.43 24.55L21.43 24.78L21.19 25.80L19.70 25.46L19.93 24.44L19.13 23.80L18.19 24.25L17.52 22.87L18.46 22.42L18.46 21.38L17.52 20.93L18.19 19.55L19.13 20.00L19.93 19.36L19.70 18.34L21.19 18.00L21.43 19.02L22.43 19.25L23.09 18.43L24.28 19.39L23.63 20.20L24.08 21.13Z" fill="#fff" stroke="#fff" stroke-width="0.6" stroke-linejoin="round"/><circle cx="21.3" cy="21.9" r="1.500" fill="#b35cb8"/></svg>
<span class="t" style="left:636.80px;top:670px;font-size:26.65px;line-height:35px;color:#1c2b34;letter-spacing:0.48px;">shopist</span>
<span class="t" style="left:596.00px;top:731px;font-size:26.65px;line-height:35px;color:#5c666e;letter-spacing:0.16px;">Last seen about 17 hours ago – 1 day old</span>
<div style="left:1111.8px;top:731px;width:2.0px;height:33px;background:#e2e5ed;"></div>
<div class="pill" style="left:1129.3px;top:722.7px;width:76.0px;height:48.099px;background:#fbecee;"></div>
<span class="t b" style="left:1141.60px;top:730px;font-size:26.65px;line-height:35px;color:#da3b4f;transform:scaleX(0.949);transform-origin:1.00px 50%;">New</span>
<div class="pill" style="left:1214px;top:722.7px;width:344.5px;height:48.099px;background:#fef5e5;"></div>
<span class="t b" style="left:1231.60px;top:730px;font-size:26.65px;line-height:35px;color:#e38327;letter-spacing:-0.25px;">Invalid object access</span>
<svg style="left:1523.5px;top:742.5px" width="18" height="10.5" viewBox="0 0 18 10.5" ><path d="M1.1 1.1H16.9L9.0 9.4Z" fill="#e3822a" stroke="#e3822a" stroke-width="2.2" stroke-linejoin="round"/></svg>
<div style="left:1961px;top:624.5px;width:16px;height:53.0px;background:#d3322d;"></div>
<div style="left:1981px;top:618.0px;width:16px;height:59.5px;background:#d3322d;"></div>
<div style="left:2001px;top:639.0px;width:16px;height:38.5px;background:#d3322d;"></div>
<div style="left:2021px;top:668.0px;width:16px;height:9.5px;background:#d3322d;"></div>
<div style="left:1961px;top:677px;width:200px;height:2px;background:#5b6670;"></div>
<span class="t" style="left:2038.00px;top:698px;font-size:26.99px;line-height:35px;color:#1c2b34;letter-spacing:0.29px;">100</span>
<div class="pill" style="left:2249px;top:636px;width:239px;height:56px;background:#fbecee;"></div>
<span class="t b" style="left:2267.60px;top:648px;font-size:25.53px;line-height:33px;color:#aa343f;transform:scaleX(0.945);transform-origin:1.00px 50%;">FOR REVIEW</span>
<svg style="left:2453px;top:660px" width="18" height="10.3" viewBox="0 0 18 10.3" ><path d="M1.1 1.1H16.9L9.0 9.200Z" fill="#aa343f" stroke="#aa343f" stroke-width="2.2" stroke-linejoin="round"/></svg>
<svg style="left:2534px;top:636px" width="56" height="56" viewBox="0 0 56 56" ><defs><clipPath id="av636"><circle cx="28" cy="28" r="28"/></clipPath></defs>
<circle cx="28" cy="28" r="28" fill="#c6c6c6"/>
<g fill="#fff"><circle cx="28" cy="26.900" r="12.300"/><rect x="22.500" y="34" width="11" height="12"/><ellipse cx="28" cy="63.300" rx="26.300" ry="21.400"/><rect x="0" y="49" width="56" height="8"/></g></svg>
<svg style="left:2618px;top:659.3px" width="20" height="11.6" viewBox="0 0 20 11.6" ><path d="M1.1 1.1H18.9L10.0 10.5Z" fill="#6c757d" stroke="#6c757d" stroke-width="2.2" stroke-linejoin="round"/></svg>
</article>
<article>
<div style="left:566px;top:801px;width:2104px;height:2px;background:#e2e5ed;"></div>
<svg style="left:596px;top:840px" width="28" height="28" viewBox="0 0 111 112.500"><use href="#pylogo"/></svg>
<h3 class="t b" style="left:639.50px;top:835px;font-size:30.75px;line-height:40px;color:#1c2b34;transform:scaleX(0.978);transform-origin:1.00px 50%;">change_stories.CHOException2026021910</h3>
<span class="t" style="left:596.00px;top:893px;font-size:26.65px;line-height:35px;color:#1c2b34;letter-spacing:0.22px;">v-20260219-10 error</span>
<div style="left:596px;top:947px;width:32px;height:32px;background:#8f4e86;border-radius:7px;"></div>
<svg style="left:596px;top:947px" width="32" height="32" viewBox="0 0 32 32" ><path d="M19.20 14.97L19.20 17.23L17.45 17.24L16.86 18.65L18.10 19.90L16.50 21.50L15.25 20.26L13.84 20.85L13.83 22.60L11.57 22.60L11.56 20.85L10.15 20.26L8.90 21.50L7.30 19.90L8.54 18.65L7.95 17.24L6.20 17.23L6.20 14.97L7.95 14.96L8.54 13.55L7.30 12.30L8.90 10.70L10.15 11.94L11.56 11.35L11.57 9.60L13.83 9.60L13.84 11.35L15.25 11.94L16.50 10.70L18.10 12.30L16.86 13.55L17.45 14.96Z" fill="#fff" stroke="#fff" stroke-width="0.6" stroke-linejoin="round"/><circle cx="12.7" cy="16.1" r="2.700" fill="#8f4e86"/><path d="M25.32 9.43L25.32 10.97L24.28 10.97L23.83 11.90L24.48 12.71L23.29 13.67L22.63 12.85L21.63 13.08L21.39 14.10L19.90 13.76L20.13 12.74L19.33 12.10L18.39 12.55L17.72 11.17L18.66 10.72L18.66 9.68L17.72 9.23L18.39 7.85L19.33 8.30L20.13 7.66L19.90 6.64L21.39 6.30L21.63 7.32L22.63 7.55L23.29 6.73L24.48 7.69L23.83 8.50L24.28 9.43Z" fill="#fff" stroke="#fff" stroke-width="0.6" stroke-linejoin="round"/><circle cx="21.5" cy="10.2" r="1.500" fill="#8f4e86"/><path d="M25.12 21.13L25.12 22.67L24.08 22.67L23.63 23.60L24.28 24.41L23.09 25.37L22.43 24.55L21.43 24.78L21.19 25.80L19.70 25.46L19.93 24.44L19.13 23.80L18.19 24.25L17.52 22.87L18.46 22.42L18.46 21.38L17.52 20.93L18.19 19.55L19.13 20.00L19.93 19.36L19.70 18.34L21.19 18.00L21.43 19.02L22.43 19.25L23.09 18.43L24.28 19.39L23.63 20.20L24.08 21.13Z" fill="#fff" stroke="#fff" stroke-width="0.6" stroke-linejoin="round"/><circle cx="21.3" cy="21.9" r="1.500" fill="#8f4e86"/></svg>
<span class="t" style="left:635.80px;top:946px;font-size:26.65px;line-height:35px;color:#1c2b34;letter-spacing:0.48px;">checkout</span>
<div style="left:765px;top:946px;width:2px;height:33px;background:#e2e5ed;"></div>
<div style="left:783px;top:944px;width:179px;height:38px;background:#eff0f2;border-radius:2px;"></div>
<code class="t" style="left:787.60px;top:951px;font-size:23.4px;line-height:30px;color:#1c2b34;letter-spacing:0.17px;font-family:'Liberation Mono', monospace;">checkout_api</code>
<span class="t" style="left:979.00px;top:946px;font-size:26.65px;line-height:35px;color:#5c666e;letter-spacing:0.50px;">in mobile-store/change_stories.py</span>
<span class="t" style="left:596.00px;top:1007px;font-size:26.65px;line-height:35px;color:#5c666e;letter-spacing:0.32px;">Last seen about 3 hours ago – about 3 hours old</span>
<div style="left:1203.3px;top:1007px;width:2.0px;height:33px;background:#e2e5ed;"></div>
<div class="pill" style="left:1220.8px;top:998.7px;width:76.0px;height:48.099px;background:#fbecee;"></div>
<span class="t b" style="left:1233.10px;top:1006px;font-size:26.65px;line-height:35px;color:#da3b4f;transform:scaleX(0.949);transform-origin:1.00px 50%;">New</span>
<div style="left:2121px;top:894.0px;width:16px;height:59.5px;background:#d3322d;"></div>
<div style="left:2141px;top:919.5px;width:16px;height:34.0px;background:#d3322d;"></div>
<div style="left:1961px;top:953px;width:200px;height:2px;background:#5b6670;"></div>
<span class="t" style="left:2039.00px;top:974px;font-size:26.99px;line-height:35px;color:#1c2b34;letter-spacing:-0.21px;">225</span>
<div class="pill" style="left:2249px;top:912px;width:239px;height:56px;background:#fbecee;"></div>
<span class="t b" style="left:2267.60px;top:924px;font-size:25.53px;line-height:33px;color:#aa343f;transform:scaleX(0.945);transform-origin:1.00px 50%;">FOR REVIEW</span>
<svg style="left:2453px;top:936px" width="18" height="10.3" viewBox="0 0 18 10.3" ><path d="M1.1 1.1H16.9L9.0 9.200Z" fill="#aa343f" stroke="#aa343f" stroke-width="2.2" stroke-linejoin="round"/></svg>
<svg style="left:2534px;top:912px" width="56" height="56" viewBox="0 0 56 56" ><defs><clipPath id="av912"><circle cx="28" cy="28" r="28"/></clipPath></defs>
<circle cx="28" cy="28" r="28" fill="#c6c6c6"/>
<g fill="#fff"><circle cx="28" cy="26.900" r="12.300"/><rect x="22.500" y="34" width="11" height="12"/><ellipse cx="28" cy="63.300" rx="26.300" ry="21.400"/><rect x="0" y="49" width="56" height="8"/></g></svg>
<svg style="left:2618px;top:935.3px" width="20" height="11.6" viewBox="0 0 20 11.6" ><path d="M1.1 1.1H18.9L10.0 10.5Z" fill="#6c757d" stroke="#6c757d" stroke-width="2.2" stroke-linejoin="round"/></svg>
</article>
<article>
<div style="left:566px;top:1077px;width:2104px;height:2px;background:#e2e5ed;"></div>
<svg style="left:596px;top:1116px" width="28" height="28" viewBox="0 0 111 112.500"><use href="#pylogo"/></svg>
<h3 class="t b" style="left:639.50px;top:1111px;font-size:30.75px;line-height:40px;color:#1c2b34;transform:scaleX(0.978);transform-origin:1.00px 50%;">change_stories.CHOException2026021906</h3>
<span class="t" style="left:596.00px;top:1169px;font-size:26.65px;line-height:35px;color:#1c2b34;letter-spacing:0.22px;">v-20260219-06 error</span>
<div style="left:596px;top:1223px;width:32px;height:32px;background:#8f4e86;border-radius:7px;"></div>
<svg style="left:596px;top:1223px" width="32" height="32" viewBox="0 0 32 32" ><path d="M19.20 14.97L19.20 17.23L17.45 17.24L16.86 18.65L18.10 19.90L16.50 21.50L15.25 20.26L13.84 20.85L13.83 22.60L11.57 22.60L11.56 20.85L10.15 20.26L8.90 21.50L7.30 19.90L8.54 18.65L7.95 17.24L6.20 17.23L6.20 14.97L7.95 14.96L8.54 13.55L7.30 12.30L8.90 10.70L10.15 11.94L11.56 11.35L11.57 9.60L13.83 9.60L13.84 11.35L15.25 11.94L16.50 10.70L18.10 12.30L16.86 13.55L17.45 14.96Z" fill="#fff" stroke="#fff" stroke-width="0.6" stroke-linejoin="round"/><circle cx="12.7" cy="16.1" r="2.700" fill="#8f4e86"/><path d="M25.32 9.43L25.32 10.97L24.28 10.97L23.83 11.90L24.48 12.71L23.29 13.67L22.63 12.85L21.63 13.08L21.39 14.10L19.90 13.76L20.13 12.74L19.33 12.10L18.39 12.55L17.72 11.17L18.66 10.72L18.66 9.68L17.72 9.23L18.39 7.85L19.33 8.30L20.13 7.66L19.90 6.64L21.39 6.30L21.63 7.32L22.63 7.55L23.29 6.73L24.48 7.69L23.83 8.50L24.28 9.43Z" fill="#fff" stroke="#fff" stroke-width="0.6" stroke-linejoin="round"/><circle cx="21.5" cy="10.2" r="1.500" fill="#8f4e86"/><path d="M25.12 21.13L25.12 22.67L24.08 22.67L23.63 23.60L24.28 24.41L23.09 25.37L22.43 24.55L21.43 24.78L21.19 25.80L19.70 25.46L19.93 24.44L19.13 23.80L18.19 24.25L17.52 22.87L18.46 22.42L18.46 21.38L17.52 20.93L18.19 19.55L19.13 20.00L19.93 19.36L19.70 18.34L21.19 18.00L21.43 19.02L22.43 19.25L23.09 18.43L24.28 19.39L23.63 20.20L24.08 21.13Z" fill="#fff" stroke="#fff" stroke-width="0.6" stroke-linejoin="round"/><circle cx="21.3" cy="21.9" r="1.500" fill="#8f4e86"/></svg>
<span class="t" style="left:635.80px;top:1222px;font-size:26.65px;line-height:35px;color:#1c2b34;letter-spacing:0.48px;">checkout</span>
<div style="left:765px;top:1222px;width:2px;height:33px;background:#e2e5ed;"></div>
<div style="left:783px;top:1220px;width:179px;height:38px;background:#eff0f2;border-radius:2px;"></div>
<code class="t" style="left:787.60px;top:1227px;font-size:23.4px;line-height:30px;color:#1c2b34;letter-spacing:0.17px;font-family:'Liberation Mono', monospace;">checkout_api</code>
<span class="t" style="left:979.00px;top:1222px;font-size:26.65px;line-height:35px;color:#5c666e;letter-spacing:0.50px;">in mobile-store/change_stories.py</span>
<span class="t" style="left:596.00px;top:1283px;font-size:26.65px;line-height:35px;color:#5c666e;letter-spacing:0.32px;">Last seen about 7 hours ago – about 7 hours old</span>
<div style="left:1203.3px;top:1283px;width:2.0px;height:33px;background:#e2e5ed;"></div>
<div class="pill" style="left:1220.8px;top:1274.7px;width:76.0px;height:48.099px;background:#fbecee;"></div>
<span class="t b" style="left:1233.10px;top:1282px;font-size:26.65px;line-height:35px;color:#da3b4f;transform:scaleX(0.949);transform-origin:1.00px 50%;">New</span>
<div style="left:2081px;top:1170.0px;width:16px;height:59.5px;background:#d3322d;"></div>
<div style="left:2101px;top:1195.5px;width:16px;height:34.0px;background:#d3322d;"></div>
<div style="left:1961px;top:1229px;width:200px;height:2px;background:#5b6670;"></div>
<span class="t" style="left:2039.00px;top:1250px;font-size:26.99px;line-height:35px;color:#1c2b34;letter-spacing:-0.21px;">226</span>
<div class="pill" style="left:2249px;top:1188px;width:239px;height:56px;background:#fbecee;"></div>
<span class="t b" style="left:2267.60px;top:1200px;font-size:25.53px;line-height:33px;color:#aa343f;transform:scaleX(0.945);transform-origin:1.00px 50%;">FOR REVIEW</span>
<svg style="left:2453px;top:1212px" width="18" height="10.3" viewBox="0 0 18 10.3" ><path d="M1.1 1.1H16.9L9.0 9.200Z" fill="#aa343f" stroke="#aa343f" stroke-width="2.2" stroke-linejoin="round"/></svg>
<svg style="left:2534px;top:1188px" width="56" height="56" viewBox="0 0 56 56" ><defs><clipPath id="av1188"><circle cx="28" cy="28" r="28"/></clipPath></defs>
<circle cx="28" cy="28" r="28" fill="#c6c6c6"/>
<g fill="#fff"><circle cx="28" cy="26.900" r="12.300"/><rect x="22.500" y="34" width="11" height="12"/><ellipse cx="28" cy="63.300" rx="26.300" ry="21.400"/><rect x="0" y="49" width="56" height="8"/></g></svg>
<svg style="left:2618px;top:1211.3px" width="20" height="11.6" viewBox="0 0 20 11.6" ><path d="M1.1 1.1H18.9L10.0 10.5Z" fill="#6c757d" stroke="#6c757d" stroke-width="2.2" stroke-linejoin="round"/></svg>
</article>
<article>
<div style="left:566px;top:1353px;width:2104px;height:2px;background:#e2e5ed;"></div>
<svg style="left:596px;top:1392px" width="28" height="28" viewBox="0 0 111 112.500"><use href="#pylogo"/></svg>
<h3 class="t b" style="left:639.50px;top:1387px;font-size:30.75px;line-height:40px;color:#1c2b34;transform:scaleX(0.977);transform-origin:1.00px 50%;">change_stories.CHOException2026021818</h3>
<span class="t" style="left:596.00px;top:1445px;font-size:26.65px;line-height:35px;color:#1c2b34;letter-spacing:0.22px;">v-20260218-18 error</span>
<div style="left:596px;top:1499px;width:32px;height:32px;background:#8f4e86;border-radius:7px;"></div>
<svg style="left:596px;top:1499px" width="32" height="32" viewBox="0 0 32 32" ><path d="M19.20 14.97L19.20 17.23L17.45 17.24L16.86 18.65L18.10 19.90L16.50 21.50L15.25 20.26L13.84 20.85L13.83 22.60L11.57 22.60L11.56 20.85L10.15 20.26L8.90 21.50L7.30 19.90L8.54 18.65L7.95 17.24L6.20 17.23L6.20 14.97L7.95 14.96L8.54 13.55L7.30 12.30L8.90 10.70L10.15 11.94L11.56 11.35L11.57 9.60L13.83 9.60L13.84 11.35L15.25 11.94L16.50 10.70L18.10 12.30L16.86 13.55L17.45 14.96Z" fill="#fff" stroke="#fff" stroke-width="0.6" stroke-linejoin="round"/><circle cx="12.7" cy="16.1" r="2.700" fill="#8f4e86"/><path d="M25.32 9.43L25.32 10.97L24.28 10.97L23.83 11.90L24.48 12.71L23.29 13.67L22.63 12.85L21.63 13.08L21.39 14.10L19.90 13.76L20.13 12.74L19.33 12.10L18.39 12.55L17.72 11.17L18.66 10.72L18.66 9.68L17.72 9.23L18.39 7.85L19.33 8.30L20.13 7.66L19.90 6.64L21.39 6.30L21.63 7.32L22.63 7.55L23.29 6.73L24.48 7.69L23.83 8.50L24.28 9.43Z" fill="#fff" stroke="#fff" stroke-width="0.6" stroke-linejoin="round"/><circle cx="21.5" cy="10.2" r="1.500" fill="#8f4e86"/><path d="M25.12 21.13L25.12 22.67L24.08 22.67L23.63 23.60L24.28 24.41L23.09 25.37L22.43 24.55L21.43 24.78L21.19 25.80L19.70 25.46L19.93 24.44L19.13 23.80L18.19 24.25L17.52 22.87L18.46 22.42L18.46 21.38L17.52 20.93L18.19 19.55L19.13 20.00L19.93 19.36L19.70 18.34L21.19 18.00L21.43 19.02L22.43 19.25L23.09 18.43L24.28 19.39L23.63 20.20L24.08 21.13Z" fill="#fff" stroke="#fff" stroke-width="0.6" stroke-linejoin="round"/><circle cx="21.3" cy="21.9" r="1.500" fill="#8f4e86"/></svg>
<span class="t" style="left:635.80px;top:1498px;font-size:26.65px;line-height:35px;color:#1c2b34;letter-spacing:0.48px;">checkout</span>
<div style="left:765px;top:1498px;width:2px;height:33px;background:#e2e5ed;"></div>
<div style="left:783px;top:1496px;width:179px;height:38px;background:#eff0f2;border-radius:2px;"></div>
<code class="t" style="left:787.60px;top:1503px;font-size:23.4px;line-height:30px;color:#1c2b34;letter-spacing:0.17px;font-family:'Liberation Mono', monospace;">checkout_api</code>
<span class="t" style="left:979.00px;top:1498px;font-size:26.65px;line-height:35px;color:#5c666e;letter-spacing:0.50px;">in mobile-store/change_stories.py</span>
<span class="t" style="left:596.00px;top:1559px;font-size:26.65px;line-height:35px;color:#5c666e;letter-spacing:0.30px;">Last seen about 19 hours ago – about 19 hours old</span>
<div style="left:1232.5px;top:1559px;width:2.0px;height:33px;background:#e2e5ed;"></div>
<div class="pill" style="left:1250.0px;top:1550.7px;width:76.0px;height:48.099px;background:#fbecee;"></div>
<span class="t b" style="left:1262.30px;top:1558px;font-size:26.65px;line-height:35px;color:#da3b4f;transform:scaleX(0.949);transform-origin:1.00px 50%;">New</span>
<div style="left:1981px;top:1446.0px;width:16px;height:59.5px;background:#d3322d;"></div>
<div style="left:2001px;top:1471.5px;width:16px;height:34.0px;background:#d3322d;"></div>
<div style="left:1961px;top:1505px;width:200px;height:2px;background:#5b6670;"></div>
<span class="t" style="left:2039.00px;top:1526px;font-size:26.99px;line-height:35px;color:#1c2b34;letter-spacing:-0.21px;">232</span>
<div class="pill" style="left:2249px;top:1464px;width:239px;height:56px;background:#fbecee;"></div>
<span class="t b" style="left:2267.60px;top:1476px;font-size:25.53px;line-height:33px;color:#aa343f;transform:scaleX(0.945);transform-origin:1.00px 50%;">FOR REVIEW</span>
<svg style="left:2453px;top:1488px" width="18" height="10.3" viewBox="0 0 18 10.3" ><path d="M1.1 1.1H16.9L9.0 9.200Z" fill="#aa343f" stroke="#aa343f" stroke-width="2.2" stroke-linejoin="round"/></svg>
<svg style="left:2534px;top:1464px" width="56" height="56" viewBox="0 0 56 56" ><defs><clipPath id="av1464"><circle cx="28" cy="28" r="28"/></clipPath></defs>
<circle cx="28" cy="28" r="28" fill="#c6c6c6"/>
<g fill="#fff"><circle cx="28" cy="26.900" r="12.300"/><rect x="22.500" y="34" width="11" height="12"/><ellipse cx="28" cy="63.300" rx="26.300" ry="21.400"/><rect x="0" y="49" width="56" height="8"/></g></svg>
<svg style="left:2618px;top:1487.3px" width="20" height="11.6" viewBox="0 0 20 11.6" ><path d="M1.1 1.1H18.9L10.0 10.5Z" fill="#6c757d" stroke="#6c757d" stroke-width="2.2" stroke-linejoin="round"/></svg>
</article>
<article>
<div style="left:566px;top:1629px;width:2104px;height:2px;background:#e2e5ed;"></div>
<svg style="left:596px;top:1668px" width="28" height="28" viewBox="0 0 111 112.500"><use href="#pylogo"/></svg>
<h3 class="t b" style="left:639.50px;top:1663px;font-size:30.75px;line-height:40px;color:#1c2b34;transform:scaleX(0.978);transform-origin:1.00px 50%;">change_stories.CHOException2026021900</h3>
</article>
</main>
<div style="left:0;top:0;width:2700px;height:1722px;pointer-events:none">
<div style="left:26px;top:185px;width:512px;height:326px;border:6px solid #ea3397;"></div>
<div style="left:532.5px;top:268px;width:269.5px;height:67.699px;background:#ea3397;"></div>
<span class="t b" style="left:543.00px;top:283px;font-size:30.75px;line-height:40px;color:#fff;letter-spacing:-0.04px;">Issue level filters</span>
<div style="left:1655.7px;top:185px;width:1032.3px;height:104px;border:6px solid #ea3397;"></div>
<div style="left:1655.7px;top:283px;width:271.299px;height:68.5px;background:#ea3397;"></div>
<span class="t b" style="left:1668.50px;top:298px;font-size:30.75px;line-height:40px;color:#fff;letter-spacing:-0.12px;">Issue level filters</span>
</div>
</div>
<script>
(function(){
  var w = window.innerWidth || document.documentElement.clientWidth;
  if (w && Math.abs(w - 2700) > 1) {
    var k = w / 2700, a = document.getElementById('app');
    a.style.transformOrigin = '0 0';
    a.style.transform = 'scale(' + k + ')';
    document.body.style.width = w + 'px';
    document.body.style.height = Math.round(1722 * k) + 'px';
  }
})();
</script>
</body>
</html>
